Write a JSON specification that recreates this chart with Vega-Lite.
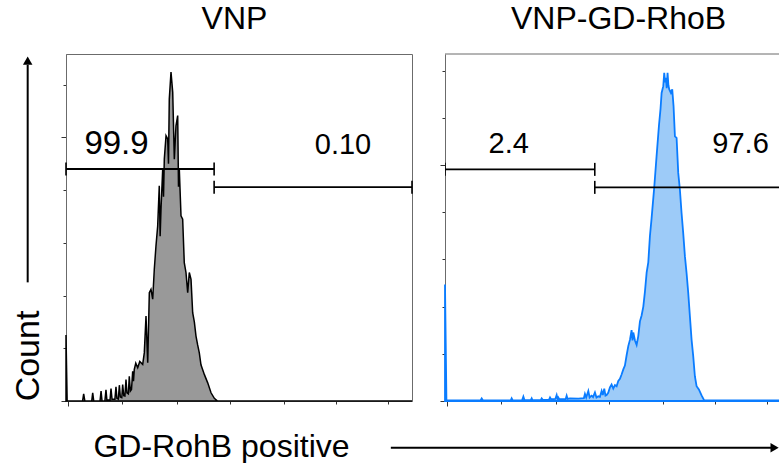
{
  "$schema": "https://vega.github.io/schema/vega-lite/v6.json",
  "padding": {"left": 10, "top": 2, "right": 0, "bottom": 0},
  "background": "white",
  "bounds": "flush",
  "spacing": 33,
  "config": {
    "view": {"stroke": "#6b6b6b", "strokeWidth": 1},
    "axis": {"domainColor": "#6b6b6b", "domainWidth": 1, "tickColor": "#333333", "tickWidth": 1, "labels": false, "grid": false, "titleFont": "Liberation Sans", "titleFontWeight": "normal", "titleColor": "black"},
    "title": {"font": "Liberation Sans", "fontSize": 32, "fontWeight": "normal", "color": "black", "baseline": "alphabetic", "offset": 18, "frame": "group", "anchor": "middle"},
    "text": {"font": "Liberation Sans"}
  },
  "datasets": {
    "vnp": [
      {"log_intensity": -0.03, "count": 20}, {"log_intensity": -0.01, "count": 0}, {"log_intensity": 0.26, "count": 0},
      {"log_intensity": 0.279, "count": 2.2}, {"log_intensity": 0.3, "count": 0}, {"log_intensity": 0.42, "count": 0},
      {"log_intensity": 0.437, "count": 2.5}, {"log_intensity": 0.455, "count": 0}, {"log_intensity": 0.565, "count": 0},
      {"log_intensity": 0.583, "count": 3.0}, {"log_intensity": 0.6, "count": 0}, {"log_intensity": 0.65, "count": 0},
      {"log_intensity": 0.669, "count": 3.4}, {"log_intensity": 0.685, "count": 0.3}, {"log_intensity": 0.74, "count": 0.3},
      {"log_intensity": 0.757, "count": 3.8}, {"log_intensity": 0.775, "count": 0.5}, {"log_intensity": 0.825, "count": 0.5},
      {"log_intensity": 0.844, "count": 4.3}, {"log_intensity": 0.86, "count": 0.8}, {"log_intensity": 0.885, "count": 0.6},
      {"log_intensity": 0.903, "count": 4.8}, {"log_intensity": 0.92, "count": 1.2}, {"log_intensity": 0.945, "count": 1.0},
      {"log_intensity": 0.961, "count": 5.0}, {"log_intensity": 0.98, "count": 1.6}, {"log_intensity": 1.0, "count": 1.5},
      {"log_intensity": 1.019, "count": 6.5}, {"log_intensity": 1.035, "count": 2.5}, {"log_intensity": 1.06, "count": 2.2},
      {"log_intensity": 1.077, "count": 7.5}, {"log_intensity": 1.095, "count": 3.0}, {"log_intensity": 1.115, "count": 3.5},
      {"log_intensity": 1.136, "count": 9.0}, {"log_intensity": 1.15, "count": 6.0}, {"log_intensity": 1.164, "count": 9.6},
      {"log_intensity": 1.19, "count": 11.5}, {"log_intensity": 1.224, "count": 10.1}, {"log_intensity": 1.26, "count": 12.0},
      {"log_intensity": 1.311, "count": 11.1}, {"log_intensity": 1.339, "count": 14.6}, {"log_intensity": 1.369, "count": 25.8},
      {"log_intensity": 1.399, "count": 11.6}, {"log_intensity": 1.427, "count": 32.9}, {"log_intensity": 1.456, "count": 33.9},
      {"log_intensity": 1.486, "count": 30.9}, {"log_intensity": 1.514, "count": 40.0}, {"log_intensity": 1.543, "count": 47.0},
      {"log_intensity": 1.573, "count": 53.1}, {"log_intensity": 1.601, "count": 65.3}, {"log_intensity": 1.616, "count": 50.0},
      {"log_intensity": 1.631, "count": 58.2}, {"log_intensity": 1.661, "count": 70.4}, {"log_intensity": 1.675, "count": 62.0},
      {"log_intensity": 1.689, "count": 73.4}, {"log_intensity": 1.719, "count": 80.5}, {"log_intensity": 1.748, "count": 79.5},
      {"log_intensity": 1.762, "count": 72.0}, {"log_intensity": 1.776, "count": 91.6}, {"log_intensity": 1.806, "count": 99.8},
      {"log_intensity": 1.836, "count": 93.7}, {"log_intensity": 1.864, "count": 73.4}, {"log_intensity": 1.893, "count": 83.5},
      {"log_intensity": 1.923, "count": 86.6}, {"log_intensity": 1.937, "count": 65.0}, {"log_intensity": 1.951, "count": 70.4},
      {"log_intensity": 1.981, "count": 56.2}, {"log_intensity": 2.01, "count": 55.2}, {"log_intensity": 2.038, "count": 42.0},
      {"log_intensity": 2.068, "count": 39.0}, {"log_intensity": 2.098, "count": 32.9}, {"log_intensity": 2.126, "count": 39.0},
      {"log_intensity": 2.156, "count": 36.9}, {"log_intensity": 2.185, "count": 26.8}, {"log_intensity": 2.214, "count": 24.0},
      {"log_intensity": 2.243, "count": 19.7}, {"log_intensity": 2.272, "count": 17.0}, {"log_intensity": 2.301, "count": 14.6},
      {"log_intensity": 2.33, "count": 11.0}, {"log_intensity": 2.36, "count": 9.5}, {"log_intensity": 2.39, "count": 8.0},
      {"log_intensity": 2.448, "count": 5.5}, {"log_intensity": 2.506, "count": 2.5}, {"log_intensity": 2.564, "count": 0.8},
      {"log_intensity": 2.62, "count": 0}, {"log_intensity": 6.02, "count": 0}
    ],
    "vnp_gd_rhob": [
      {"log_intensity": -0.03, "count": 39.5}, {"log_intensity": -0.005, "count": 0.2}, {"log_intensity": 0.59, "count": 0.2},
      {"log_intensity": 0.612, "count": 0.9}, {"log_intensity": 0.635, "count": 0.2}, {"log_intensity": 1.12, "count": 0.2},
      {"log_intensity": 1.136, "count": 0.9}, {"log_intensity": 1.155, "count": 0.2}, {"log_intensity": 1.32, "count": 0.3},
      {"log_intensity": 1.341, "count": 1.5}, {"log_intensity": 1.36, "count": 0.3}, {"log_intensity": 1.47, "count": 0.3},
      {"log_intensity": 1.486, "count": 0.9}, {"log_intensity": 1.5, "count": 0.3}, {"log_intensity": 1.645, "count": 0.3},
      {"log_intensity": 1.661, "count": 0.9}, {"log_intensity": 1.68, "count": 0.4}, {"log_intensity": 1.79, "count": 0.5},
      {"log_intensity": 1.807, "count": 1.2}, {"log_intensity": 1.825, "count": 0.6}, {"log_intensity": 1.9, "count": 0.7},
      {"log_intensity": 1.923, "count": 2.0}, {"log_intensity": 1.94, "count": 0.6}, {"log_intensity": 1.952, "count": 1.2},
      {"log_intensity": 1.97, "count": 0.6}, {"log_intensity": 2.08, "count": 0.6}, {"log_intensity": 2.098, "count": 1.8},
      {"log_intensity": 2.115, "count": 0.7}, {"log_intensity": 2.156, "count": 0.9}, {"log_intensity": 2.302, "count": 0.8},
      {"log_intensity": 2.4, "count": 1.0}, {"log_intensity": 2.418, "count": 2.4}, {"log_intensity": 2.44, "count": 1.2},
      {"log_intensity": 2.477, "count": 3.4}, {"log_intensity": 2.5, "count": 1.2}, {"log_intensity": 2.535, "count": 1.8},
      {"log_intensity": 2.56, "count": 1.3}, {"log_intensity": 2.593, "count": 2.9}, {"log_intensity": 2.62, "count": 1.2},
      {"log_intensity": 2.651, "count": 1.6}, {"log_intensity": 2.68, "count": 1.4}, {"log_intensity": 2.71, "count": 3.4},
      {"log_intensity": 2.73, "count": 2.0}, {"log_intensity": 2.756, "count": 4.2}, {"log_intensity": 2.777, "count": 1.8},
      {"log_intensity": 2.797, "count": 2.0}, {"log_intensity": 2.825, "count": 2.8}, {"log_intensity": 2.855, "count": 4.6},
      {"log_intensity": 2.884, "count": 5.6}, {"log_intensity": 2.913, "count": 4.2}, {"log_intensity": 2.943, "count": 5.4},
      {"log_intensity": 2.972, "count": 5.0}, {"log_intensity": 3.001, "count": 6.8}, {"log_intensity": 3.03, "count": 7.5},
      {"log_intensity": 3.059, "count": 9.0}, {"log_intensity": 3.089, "count": 10.7}, {"log_intensity": 3.117, "count": 12.0},
      {"log_intensity": 3.147, "count": 15.5}, {"log_intensity": 3.176, "count": 18.6}, {"log_intensity": 3.206, "count": 20.8},
      {"log_intensity": 3.234, "count": 24.0}, {"log_intensity": 3.25, "count": 20.5}, {"log_intensity": 3.264, "count": 23.2},
      {"log_intensity": 3.293, "count": 20.5}, {"log_intensity": 3.322, "count": 19.0}, {"log_intensity": 3.351, "count": 22.0},
      {"log_intensity": 3.38, "count": 27.0}, {"log_intensity": 3.409, "count": 29.0}, {"log_intensity": 3.439, "count": 32.0},
      {"log_intensity": 3.467, "count": 37.0}, {"log_intensity": 3.497, "count": 43.5}, {"log_intensity": 3.526, "count": 47.0},
      {"log_intensity": 3.555, "count": 56.0}, {"log_intensity": 3.584, "count": 62.0}, {"log_intensity": 3.63, "count": 72.4},
      {"log_intensity": 3.671, "count": 83.0}, {"log_intensity": 3.712, "count": 93.2}, {"log_intensity": 3.74, "count": 99.0},
      {"log_intensity": 3.759, "count": 104.4}, {"log_intensity": 3.788, "count": 106.7}, {"log_intensity": 3.805, "count": 111.2},
      {"log_intensity": 3.82, "count": 108.0}, {"log_intensity": 3.834, "count": 109.5}, {"log_intensity": 3.848, "count": 106.0},
      {"log_intensity": 3.863, "count": 111.2}, {"log_intensity": 3.878, "count": 107.0}, {"log_intensity": 3.893, "count": 105.6},
      {"log_intensity": 3.922, "count": 104.4}, {"log_intensity": 3.945, "count": 105.6}, {"log_intensity": 3.968, "count": 99.9},
      {"log_intensity": 3.992, "count": 89.7}, {"log_intensity": 4.021, "count": 89.2}, {"log_intensity": 4.05, "count": 77.3},
      {"log_intensity": 4.079, "count": 71.6}, {"log_intensity": 4.108, "count": 63.7}, {"log_intensity": 4.137, "count": 56.9},
      {"log_intensity": 4.167, "count": 49.0}, {"log_intensity": 4.196, "count": 43.3}, {"log_intensity": 4.225, "count": 36.6},
      {"log_intensity": 4.254, "count": 28.7}, {"log_intensity": 4.283, "count": 20.8}, {"log_intensity": 4.312, "count": 15.2},
      {"log_intensity": 4.341, "count": 8.4}, {"log_intensity": 4.371, "count": 5.0}, {"log_intensity": 4.411, "count": 3.9},
      {"log_intensity": 4.458, "count": 1.9}, {"log_intensity": 4.504, "count": 0.2}, {"log_intensity": 5.83, "count": 0.2}
    ],
    "gates_vnp": [
      {"x_start": -0.03, "x_end": 2.56, "gate_y": 70.4, "label": "99.9", "label_x": 0.853, "label_y": 74.9},
      {"x_start": 2.56, "x_end": 6.02, "gate_y": 64.9, "label": "0.10", "label_x": 4.813, "label_y": 74.9}
    ],
    "gates_rhob": [
      {"x_start": -0.03, "x_end": 2.59, "gate_y": 78.5, "label": "2.4", "label_x": 1.084, "label_y": 84.2},
      {"x_start": 2.59, "x_end": 6.02, "gate_y": 72.4, "label": "97.6", "label_x": 5.14, "label_y": 84.2}
    ]
  },
  "hconcat": [
    {
      "width": 346,
      "height": 347,
      "title": {"text": "VNP", "dx": -4.5},
      "layer": [
        {
          "data": {"name": "vnp"},
          "mark": {"type": "area", "fill": "#999999", "stroke": "black", "strokeWidth": 1.5, "interpolate": "linear", "fillOpacity": 1},
          "encoding": {
            "x": {"field": "log_intensity", "type": "quantitative",
              "scale": {"domain": [-0.03, 6.02], "nice": false, "zero": false},
              "axis": {"title": "GD-RohB positive", "titleFontSize": 32, "titleX": 155, "titleY": 55, "titleAlign": "center", "titleBaseline": "alphabetic",
                "values": [0,0.301,0.477,0.602,0.699,0.778,0.845,0.903,0.954,1,1.301,1.477,1.602,1.699,1.778,1.845,1.903,1.954,2,2.301,2.477,2.602,2.699,2.778,2.845,2.903,2.954,3,3.301,3.477,3.602,3.699,3.778,3.845,3.903,3.954,4,4.301,4.477,4.602,4.699,4.778,4.845,4.903,4.954,5,5.301,5.477,5.602,5.699,5.778,5.845,5.903,5.954,6],
                "tickSize": {"condition": {"test": "datum.value % 1 === 0", "value": 5}, "value": 3}}},
            "y": {"field": "count", "type": "quantitative",
              "scale": {"domain": [0, 105.3], "nice": false},
              "axis": {"title": "Count", "titleFontSize": 34, "titleAngle": 270, "titleX": -28, "titleY": 301.5, "titleAlign": "center", "titleBaseline": "alphabetic",
                "values": [0,4,8,12,16,20,24,28,32,36,40,44,48,52,56,60,64,68,72,76,80,84,88,92,96,100,104],
                "tickSize": {"condition": {"test": "datum.value % 20 === 0", "value": 5}, "value": 3}}}
          }
        },
        {
          "data": {"name": "gates_vnp"},
          "mark": {"type": "rule", "color": "black", "strokeWidth": 1.8},
          "encoding": {
            "x": {"field": "x_start", "type": "quantitative"},
            "x2": {"field": "x_end"},
            "y": {"field": "gate_y", "type": "quantitative"}
          }
        },
        {
          "data": {"name": "gates_vnp"},
          "mark": {"type": "tick", "orient": "vertical", "color": "black", "size": 13, "thickness": 1.6, "opacity": 1},
          "encoding": {
            "x": {"field": "x_start", "type": "quantitative"},
            "y": {"field": "gate_y", "type": "quantitative"}
          }
        },
        {
          "data": {"name": "gates_vnp"},
          "mark": {"type": "tick", "orient": "vertical", "color": "black", "size": 13, "thickness": 1.6, "opacity": 1},
          "encoding": {
            "x": {"field": "x_end", "type": "quantitative"},
            "y": {"field": "gate_y", "type": "quantitative"}
          }
        },
        {
          "data": {"name": "gates_vnp"},
          "mark": {"type": "text", "font": "Liberation Sans", "align": "center", "baseline": "alphabetic", "color": "black"},
          "encoding": {
            "x": {"field": "label_x", "type": "quantitative"},
            "y": {"field": "label_y", "type": "quantitative"},
            "text": {"field": "label"},
            "size": {"condition": {"test": "datum.label === '99.9'", "value": 33}, "value": 29}
          }
        },
        {
          "data": {"values": [{}]},
          "mark": {"type": "rule", "color": "black", "strokeWidth": 2},
          "encoding": {
            "x": {"datum": -0.7, "type": "quantitative"},
            "y": {"datum": 36, "type": "quantitative"},
            "y2": {"datum": 102}
          }
        },
        {
          "data": {"values": [{}]},
          "mark": {"type": "point", "shape": "triangle-up", "filled": true, "color": "black", "size": 90, "opacity": 1},
          "encoding": {
            "x": {"datum": -0.7, "type": "quantitative"},
            "y": {"datum": 103.3, "type": "quantitative"}
          }
        },
        {
          "data": {"values": [{}]},
          "mark": {"type": "rule", "color": "black", "strokeWidth": 2},
          "encoding": {
            "x": {"datum": 5.65, "type": "quantitative"},
            "x2": {"datum": 12.3},
            "y": {"datum": -14.2, "type": "quantitative"}
          }
        },
        {
          "data": {"values": [{}]},
          "mark": {"type": "point", "shape": "triangle-right", "filled": true, "color": "black", "size": 90, "opacity": 1},
          "encoding": {
            "x": {"datum": 12.36, "type": "quantitative"},
            "y": {"datum": -14.2, "type": "quantitative"}
          }
        }
      ]
    },
    {
      "width": 335,
      "height": 347,
      "view": {"stroke": null},
      "title": {"text": "VNP-GD-RhoB", "dx": 6},
      "layer": [
        {
          "data": {"name": "vnp_gd_rhob"},
          "mark": {"type": "area", "fill": "#9dcbf8", "stroke": "#0a7cff", "strokeWidth": 1.8, "interpolate": "linear", "fillOpacity": 1},
          "encoding": {
            "x": {"field": "log_intensity", "type": "quantitative",
              "scale": {"domain": [-0.03, 5.83], "nice": false, "zero": false},
              "axis": {"title": null,
                "values": [0,0.301,0.477,0.602,0.699,0.778,0.845,0.903,0.954,1,1.301,1.477,1.602,1.699,1.778,1.845,1.903,1.954,2,2.301,2.477,2.602,2.699,2.778,2.845,2.903,2.954,3,3.301,3.477,3.602,3.699,3.778,3.845,3.903,3.954,4,4.301,4.477,4.602,4.699,4.778,4.845,4.903,4.954,5,5.301,5.477,5.602,5.699,5.778],
                "tickSize": {"condition": {"test": "datum.value % 1 === 0", "value": 5}, "value": 3}}},
            "y": {"field": "count", "type": "quantitative",
              "scale": {"domain": [0, 117.6], "nice": false},
              "axis": {"title": null,
                "values": [0,4,8,12,16,20,24,28,32,36,40,44,48,52,56,60,64,68,72,76,80,84,88,92,96,100,104,108,112,116],
                "tickSize": {"condition": {"test": "datum.value % 20 === 0", "value": 5}, "value": 3}}}
          }
        },
        {
          "data": {"values": [{}]},
          "mark": {"type": "rule", "color": "#6b6b6b", "strokeWidth": 1},
          "encoding": {
            "y": {"datum": 117.6, "type": "quantitative"}
          }
        },
        {
          "data": {"name": "gates_rhob"},
          "mark": {"type": "rule", "color": "black", "strokeWidth": 1.8, "clip": true},
          "encoding": {
            "x": {"field": "x_start", "type": "quantitative"},
            "x2": {"field": "x_end"},
            "y": {"field": "gate_y", "type": "quantitative"}
          }
        },
        {
          "data": {"name": "gates_rhob"},
          "mark": {"type": "tick", "orient": "vertical", "color": "black", "size": 13, "thickness": 1.6, "opacity": 1, "clip": true},
          "encoding": {
            "x": {"field": "x_start", "type": "quantitative"},
            "y": {"field": "gate_y", "type": "quantitative"}
          }
        },
        {
          "data": {"name": "gates_rhob"},
          "mark": {"type": "tick", "orient": "vertical", "color": "black", "size": 13, "thickness": 1.6, "opacity": 1, "clip": true},
          "encoding": {
            "x": {"field": "x_end", "type": "quantitative"},
            "y": {"field": "gate_y", "type": "quantitative"}
          }
        },
        {
          "data": {"name": "gates_rhob"},
          "mark": {"type": "text", "font": "Liberation Sans", "align": "center", "baseline": "alphabetic", "color": "black", "fontSize": 29},
          "encoding": {
            "x": {"field": "label_x", "type": "quantitative"},
            "y": {"field": "label_y", "type": "quantitative"},
            "text": {"field": "label"}
          }
        }
      ]
    }
  ]
}
